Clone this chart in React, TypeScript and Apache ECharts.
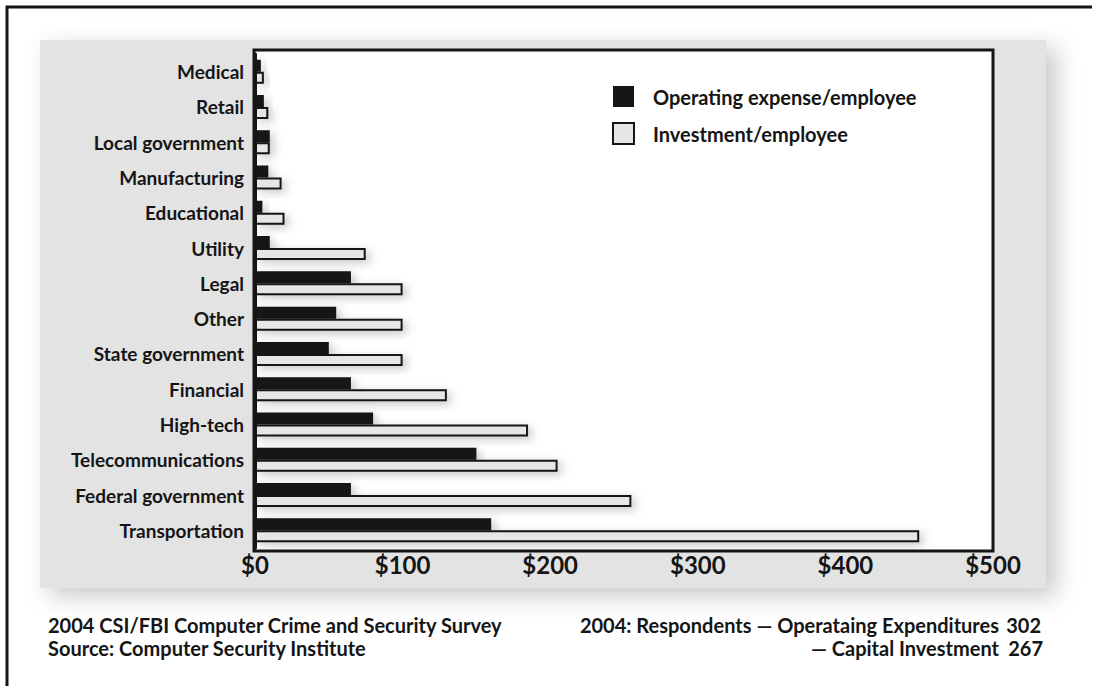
import React, { useEffect, useRef } from "react";
import * as echarts from "echarts";

// Industries, listed top to bottom
const categories = [
  "Medical",
  "Retail",
  "Local government",
  "Manufacturing",
  "Educational",
  "Utility",
  "Legal",
  "Other",
  "State government",
  "Financial",
  "High-tech",
  "Telecommunications",
  "Federal government",
  "Transportation",
];

// Dollars per employee
const operatingExpense = [4, 6, 10, 9, 5, 10, 65, 55, 50, 65, 80, 150, 65, 160];
const investment = [6, 9, 10, 18, 20, 75, 100, 100, 100, 130, 185, 205, 255, 450];

const xTicks = { min: 0, max: 500, interval: 100 };

const seriesNames = ["Operating expense/employee", "Investment/employee"];

const footerLeft = [
  "2004 CSI/FBI Computer Crime and Security Survey",
  "Source: Computer Security Institute",
];
const footerRightLabels = ["2004: Respondents \u2014 Operataing Expenditures", "\u2014 Capital Investment"];
const footerRightValues = ["302", "267"];

const FONT = "Lato, 'Open Sans', sans-serif";
const INK = "#151515";

export default function App() {
  const ref = useRef<HTMLDivElement>(null);

  useEffect(() => {
    if (!ref.current) return;
    const chart = echarts.init(ref.current, undefined, { renderer: "svg" });

    const footer: any[] = [];
    footerLeft.forEach((t, i) => {
      footer.push({
        type: "text",
        x: 48,
        y: 615 + i * 23,
        style: { text: t, font: `bold 20px ${FONT}`, fill: INK, verticalAlign: "top" },
      });
    });
    footerRightLabels.forEach((t, i) => {
      footer.push({
        type: "text",
        x: 999,
        y: 615 + i * 23,
        style: { text: t, font: `bold 20px ${FONT}`, fill: INK, align: "right", verticalAlign: "top" },
      });
      footer.push({
        type: "text",
        x: 1041 + i * 2,
        y: 615 + i * 23,
        style: { text: footerRightValues[i], font: `bold 20px ${FONT}`, fill: INK, align: "right", verticalAlign: "top" },
      });
    });

    const barShadow = {
      shadowBlur: 10,
      shadowColor: "rgba(0,0,0,0.22)",
      shadowOffsetX: 4,
      shadowOffsetY: 3,
    };

    chart.setOption({
      animation: false,
      backgroundColor: "#ffffff",
      textStyle: { fontFamily: FONT },
      graphic: [
        // outer frame
        {
          type: "polyline",
          z: 0,
          shape: { points: [[7, 700], [7, 7], [1092, 7]] },
          style: { stroke: INK, lineWidth: 3, fill: null },
        },
        // grey panel with drop shadow
        {
          type: "rect",
          z: 0,
          shape: { x: 40, y: 40, width: 1006, height: 548 },
          style: {
            fill: "#e3e3e3",
            shadowBlur: 24,
            shadowColor: "rgba(0,0,0,0.22)",
            shadowOffsetX: 10,
            shadowOffsetY: 8,
          },
        },
        // plot box
        {
          type: "rect",
          z: 1,
          shape: { x: 254, y: 50, width: 739, height: 501 },
          style: { fill: "#ffffff", stroke: INK, lineWidth: 3 },
        },
        ...footer,
      ],
      legend: {
        left: 607,
        top: 81,
        orient: "vertical",
        itemWidth: 21,
        itemHeight: 21,
        itemGap: 15,
        icon: "rect",
        data: seriesNames,
        textStyle: {
          fontFamily: FONT,
          fontSize: 20,
          fontWeight: "bold",
          color: INK,
          padding: [0, 0, 0, 14],
        },
      },
      grid: { left: 255, right: 103, top: 54, bottom: 138 },
      xAxis: {
        type: "value",
        min: xTicks.min,
        max: xTicks.max,
        interval: xTicks.interval,
        axisLine: { show: false },
        axisTick: { show: false },
        splitLine: { show: false },
        axisLabel: {
          formatter: (v: number) => `$${v}`,
          fontFamily: FONT,
          fontSize: 24,
          fontWeight: "bold",
          color: INK,
          margin: 4,
        },
      },
      yAxis: {
        type: "category",
        inverse: true,
        data: categories,
        z: 5,
        axisLine: { show: true, lineStyle: { color: INK, width: 3 } },
        axisTick: { show: false },
        axisLabel: {
          fontFamily: FONT,
          fontSize: 19,
          fontWeight: "bold",
          color: INK,
          margin: 11,
        },
      },
      series: [
        {
          name: seriesNames[0],
          type: "bar",
          data: operatingExpense,
          barWidth: 12,
          barGap: "0%",
          itemStyle: { color: INK, ...barShadow },
          z: 3,
        },
        {
          name: seriesNames[1],
          type: "bar",
          data: investment,
          barWidth: 12,
          barGap: "0%",
          itemStyle: { color: "#e6e6e6", borderColor: INK, borderWidth: 2, ...barShadow },
          z: 3,
        },
      ],
    });

    return () => chart.dispose();
  }, []);

  return (
    <div
      ref={ref}
      style={{ position: "absolute", left: 0, top: 0, width: 1096, height: 686 }}
    />
  );
}
